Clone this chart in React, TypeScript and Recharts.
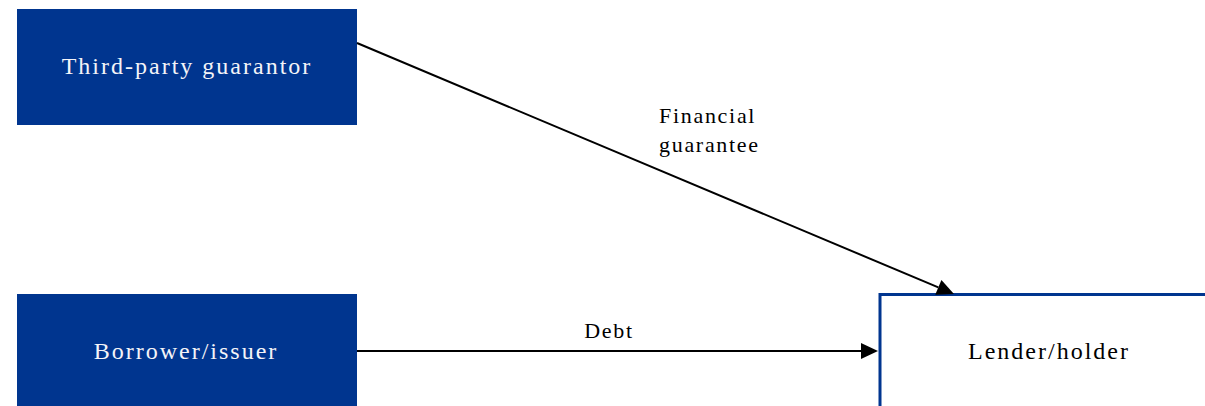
import React from "react";
import {
  ScatterChart,
  Scatter,
  XAxis,
  YAxis,
  ReferenceArea,
  ReferenceLine,
} from "recharts";

// layout units = pixels of the 1205x406 canvas
const boxNames = ["Third-party guarantor", "Borrower/issuer", "Lender/holder"];
const boxLeft = [17, 17, 880];
const boxRight = [357, 357, 1220];
const boxTop = [9, 294, 294.5];
const boxBottom = [125, 420, 420];
const boxFilled = [true, true, false];

const flowNames = ["Financial guarantee", "Debt"];
const flowFrom = [
  { x: 357, y: 43 },
  { x: 357, y: 351 },
];
const flowTo = [
  { x: 954, y: 294 },
  { x: 878, y: 351 },
];

const labelText = [
  "Third-party guarantor",
  "Borrower/issuer",
  "Lender/holder",
  "Financial",
  "guarantee",
  "Debt",
];
const labelX = [187, 186, 1049, 659, 659, 609];
const labelY = [74, 359, 359, 123, 152, 338];
const labelAnchor = ["middle", "middle", "middle", "start", "start", "middle"];
const labelOnBlue = [true, true, false, false, false, false];
const labelIsBox = [true, true, true, false, false, false];

const BLUE = "#00358f";

const labels = labelText.map((t, i) => ({
  x: labelX[i],
  y: labelY[i],
  text: t,
  anchor: labelAnchor[i],
  light: labelOnBlue[i],
  big: labelIsBox[i],
}));

const Arrow = (props: any) => {
  const { x1, y1, x2, y2 } = props;
  const ang = Math.atan2(y2 - y1, x2 - x1);
  const len = 17;
  const half = 8;
  const bx = x2 - len * Math.cos(ang);
  const by = y2 - len * Math.sin(ang);
  const px = -Math.sin(ang) * half;
  const py = Math.cos(ang) * half;
  return (
    <g>
      <line x1={x1} y1={y1} x2={bx} y2={by} stroke="#000" strokeWidth={2} />
      <polygon
        points={`${x2},${y2} ${bx + px},${by + py} ${bx - px},${by - py}`}
        fill="#000"
      />
    </g>
  );
};

const Label = (props: any) => {
  const { cx, cy, payload } = props;
  return (
    <text
      x={cx}
      y={cy}
      textAnchor={payload.anchor}
      fill={payload.light ? "#f4f4f8" : "#000000"}
      fontSize={payload.big ? 24 : 22}
      letterSpacing={payload.big ? 2 : 1.7}
      fontFamily="'Liberation Serif', 'Times New Roman', serif"
    >
      {payload.text}
    </text>
  );
};

export default function App() {
  return (
    <div style={{ position: "absolute", left: 0, top: 0, background: "#fff" }}>
      <ScatterChart
        width={1205}
        height={406}
        margin={{ top: 0, right: 0, bottom: 0, left: 0 }}
      >
        <XAxis type="number" dataKey="x" domain={[0, 1205]} hide allowDataOverflow />
        <YAxis
          type="number"
          dataKey="y"
          domain={[0, 406]}
          reversed
          hide
          allowDataOverflow
        />
        {boxNames.map((name, i) => (
          <ReferenceArea
            key={name}
            x1={boxLeft[i]}
            x2={boxRight[i]}
            y1={boxTop[i]}
            y2={boxBottom[i]}
            ifOverflow="hidden"
            fill={boxFilled[i] ? BLUE : "#ffffff"}
            fillOpacity={1}
            stroke={boxFilled[i] ? "none" : BLUE}
            strokeWidth={boxFilled[i] ? 0 : 3}
          />
        ))}
        {flowNames.map((name, i) => (
          <ReferenceLine
            key={name}
            segment={[flowFrom[i], flowTo[i]]}
            ifOverflow="visible"
            shape={(p: any) => <Arrow {...p} />}
          />
        ))}
        <Scatter
          data={labels}
          shape={(p: any) => <Label {...p} />}
          isAnimationActive={false}
        />
      </ScatterChart>
    </div>
  );
}
